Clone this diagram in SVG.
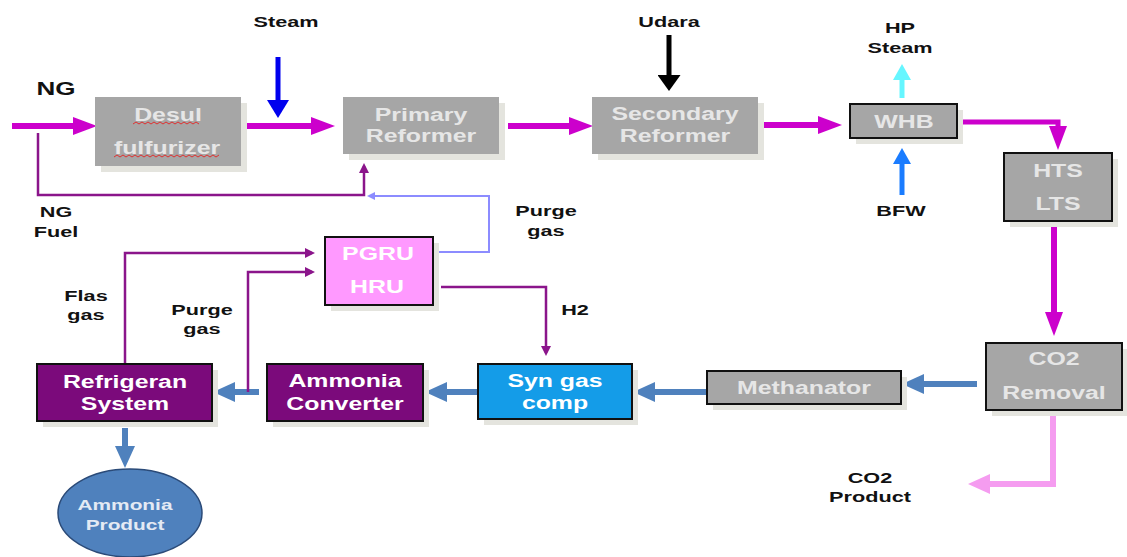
<svg xmlns="http://www.w3.org/2000/svg" width="1127" height="557" viewBox="0 0 1127 557">
<style>
.lbl{font-family:"Liberation Sans",Arial,sans-serif;font-weight:bold;font-size:15.5px;fill:#111;text-anchor:middle}
.bt{font-family:"Liberation Sans",Arial,sans-serif;font-weight:bold;font-size:18px;text-anchor:middle}
.g{fill:#e6e6e6}
.w{fill:#ffffff}
.shadow{fill:#e4e4de}
.grey{fill:#a6a6a6}
.bord{stroke:#111;stroke-width:2}
.ln{fill:none;stroke-linejoin:miter}
</style>
<defs>
<marker id="mMag" markerUnits="userSpaceOnUse" markerWidth="24" markerHeight="18" viewBox="0 0 24 18" refX="16" refY="9" orient="auto"><path d="M0,0 L24,9 L0,18 z" fill="#cc00cc"/></marker>
<marker id="mBlue" markerUnits="userSpaceOnUse" markerWidth="22" markerHeight="20" viewBox="0 0 22 20" refX="14" refY="10" orient="auto"><path d="M0,0 L22,10 L0,20 z" fill="#4f81bd"/></marker>
<marker id="mPink" markerUnits="userSpaceOnUse" markerWidth="22" markerHeight="20" viewBox="0 0 22 20" refX="14" refY="10" orient="auto"><path d="M0,0 L22,10 L0,20 z" fill="#f59cf0"/></marker>
<marker id="mSteam" markerUnits="userSpaceOnUse" markerWidth="18" markerHeight="22" viewBox="0 0 18 22" refX="10" refY="11" orient="auto"><path d="M0,0 L18,11 L0,22 z" fill="#0000ee"/></marker>
<marker id="mBlack" markerUnits="userSpaceOnUse" markerWidth="16" markerHeight="23" viewBox="0 0 16 23" refX="8" refY="11.5" orient="auto"><path d="M0,0 L16,11.5 L0,23 z" fill="#000"/></marker>
<marker id="mCyan" markerUnits="userSpaceOnUse" markerWidth="16" markerHeight="18" viewBox="0 0 16 18" refX="8" refY="9" orient="auto"><path d="M0,0 L16,9 L0,18 z" fill="#66f6ff"/></marker>
<marker id="mBFW" markerUnits="userSpaceOnUse" markerWidth="16" markerHeight="18" viewBox="0 0 16 18" refX="8" refY="9" orient="auto"><path d="M0,0 L16,9 L0,18 z" fill="#1a7cff"/></marker>
<marker id="mPur" markerUnits="userSpaceOnUse" markerWidth="10" markerHeight="10" viewBox="0 0 10 10" refX="7" refY="5" orient="auto"><path d="M0,0 L10,5 L0,10 z" fill="#8b158b"/></marker>
<marker id="mVio" markerUnits="userSpaceOnUse" markerWidth="8" markerHeight="8" viewBox="0 0 8 8" refX="6" refY="4" orient="auto"><path d="M0,0 L8,4 L0,8 z" fill="#8c8cff"/></marker>
</defs>
<rect width="1127" height="557" fill="#fff"/>

<g id="connectors" class="ln">
<path d="M12,126 H89" stroke="#cc00cc" stroke-width="6" marker-end="url(#mMag)"/>
<path d="M241,126 H327" stroke="#cc00cc" stroke-width="6" marker-end="url(#mMag)"/>
<path d="M508,126 H585" stroke="#cc00cc" stroke-width="6" marker-end="url(#mMag)"/>
<path d="M763,125 H834" stroke="#cc00cc" stroke-width="6" marker-end="url(#mMag)"/>
<path d="M957,122 H1058 V142" stroke="#cc00cc" stroke-width="5" marker-end="url(#mMag)"/>
<path d="M1054,224 V328" stroke="#cc00cc" stroke-width="6" marker-end="url(#mMag)"/>
<path d="M977,384 H910" stroke="#4f81bd" stroke-width="6" marker-end="url(#mBlue)"/>
<path d="M707,392 H641" stroke="#4f81bd" stroke-width="6" marker-end="url(#mBlue)"/>
<path d="M478,392 H433" stroke="#4f81bd" stroke-width="6" marker-end="url(#mBlue)"/>
<path d="M259,392 H221" stroke="#4f81bd" stroke-width="6" marker-end="url(#mBlue)"/>
<path d="M125,428 V460" stroke="#4f81bd" stroke-width="6" marker-end="url(#mBlue)"/>
<path d="M1053,415 V484 H976" stroke="#f59cf0" stroke-width="6" marker-end="url(#mPink)"/>
<path d="M278,57 V110" stroke="#0000ee" stroke-width="5" marker-end="url(#mSteam)"/>
<path d="M669,35 V83" stroke="#000" stroke-width="5" marker-end="url(#mBlack)"/>
<path d="M902,98 V72" stroke="#66f6ff" stroke-width="5" marker-end="url(#mCyan)"/>
<path d="M902,195 V156" stroke="#1a7cff" stroke-width="5" marker-end="url(#mBFW)"/>
<path d="M38,133 V195 H364 V166" stroke="#8b158b" stroke-width="2.5" marker-end="url(#mPur)"/>
<path d="M125,364 V253 H312" stroke="#8b158b" stroke-width="2.5" marker-end="url(#mPur)"/>
<path d="M248,392 V272 H312" stroke="#8b158b" stroke-width="2.5" marker-end="url(#mPur)"/>
<path d="M441,287 H546 V353" stroke="#8b158b" stroke-width="2.5" marker-end="url(#mPur)"/>
<path d="M433,252 H489 V196 H369" stroke="#8c8cff" stroke-width="2" marker-end="url(#mVio)"/>
</g>

<g id="desul">
<rect x="101" y="103" width="146" height="69" class="shadow"/>
<rect x="95" y="97" width="146" height="69" class="grey"/>
<text class="bt g" transform="translate(168 121) scale(1.38 1)">Desul</text>
<text class="bt g" transform="translate(167 154) scale(1.38 1)">fulfurizer</text>
<path d="M133,124 l3,-2 l3,2 l3,-2 l3,2 l3,-2 l3,2 l3,-2 l3,2 l3,-2 l3,2 l3,-2 l3,2 l3,-2 l3,2 l3,-2 l3,2 l3,-2 l3,2 l3,-2 l3,2 l3,-2 l3,2 M114,157 l3,-2 l3,2 l3,-2 l3,2 l3,-2 l3,2 l3,-2 l3,2 l3,-2 l3,2 l3,-2 l3,2 l3,-2 l3,2 l3,-2 l3,2 l3,-2 l3,2 l3,-2 l3,2 l3,-2 l3,2 l3,-2 l3,2 l3,-2 l3,2 l3,-2 l3,2 l3,-2 l3,2 l3,-2 l3,2 l3,-2 l3,2 l3,-2" fill="none" stroke="#e03030" stroke-width="1"/>
</g>

<g id="primary">
<rect x="349" y="103" width="156" height="57" class="shadow"/>
<rect x="343" y="97" width="156" height="57" class="grey"/>
<text class="bt g" transform="translate(421 121) scale(1.38 1)">Primary</text>
<text class="bt g" transform="translate(421 142) scale(1.38 1)">Reformer</text>
</g>

<g id="secondary">
<rect x="598" y="103" width="166" height="57" class="shadow"/>
<rect x="592" y="97" width="166" height="57" class="grey"/>
<text class="bt g" transform="translate(675 120) scale(1.38 1)">Secondary</text>
<text class="bt g" transform="translate(675 142) scale(1.38 1)">Reformer</text>
</g>

<g id="whb">
<rect x="856" y="110" width="107" height="34" class="shadow"/>
<rect x="850" y="104" width="107" height="34" class="grey bord"/>
<text class="bt g" transform="translate(904 128) scale(1.38 1)">WHB</text>
</g>

<g id="hts">
<rect x="1010" y="159" width="108" height="68" class="shadow"/>
<rect x="1004" y="153" width="108" height="68" class="grey bord"/>
<text class="bt g" transform="translate(1058 177) scale(1.38 1)">HTS</text>
<text class="bt g" transform="translate(1058 210) scale(1.38 1)">LTS</text>
</g>

<g id="co2">
<rect x="992" y="349" width="136" height="67" class="shadow"/>
<rect x="986" y="343" width="136" height="67" class="grey bord"/>
<text class="bt g" transform="translate(1054 365) scale(1.38 1)">CO2</text>
<text class="bt g" transform="translate(1054 399) scale(1.38 1)">Removal</text>
</g>

<g id="methanator">
<rect x="713" y="377" width="194" height="33" class="shadow"/>
<rect x="707" y="371" width="194" height="33" class="grey bord"/>
<text class="bt g" transform="translate(804 394) scale(1.38 1)">Methanator</text>
</g>

<g id="syngas">
<rect x="484" y="370" width="154" height="55" class="shadow"/>
<rect x="478" y="364" width="154" height="55" fill="#149ce8" class="bord"/>
<text class="bt w" transform="translate(555 387) scale(1.38 1)">Syn gas</text>
<text class="bt w" transform="translate(555 409) scale(1.38 1)">comp</text>
</g>

<g id="converter">
<rect x="273" y="370" width="156" height="57" class="shadow"/>
<rect x="267" y="364" width="156" height="57" fill="#7b0a7b" class="bord"/>
<text class="bt w" transform="translate(345 387) scale(1.38 1)">Ammonia</text>
<text class="bt w" transform="translate(345 410) scale(1.38 1)">Converter</text>
</g>

<g id="refrigeran">
<rect x="43" y="370" width="175" height="57" class="shadow"/>
<rect x="37" y="364" width="175" height="57" fill="#7b0a7b" class="bord"/>
<text class="bt w" transform="translate(125 388) scale(1.38 1)">Refrigeran</text>
<text class="bt w" transform="translate(125 410) scale(1.38 1)">System</text>
</g>

<g id="pgru">
<rect x="331" y="243" width="108" height="68" class="shadow"/>
<rect x="325" y="237" width="108" height="68" fill="#ff99ff" class="bord"/>
<text class="bt w" transform="translate(378 260) scale(1.38 1)">PGRU</text>
<text class="bt w" transform="translate(377 293) scale(1.38 1)">HRU</text>
</g>

<g id="ammonia-product">
<ellipse cx="130" cy="513" rx="72" ry="44" fill="#4f81bd" stroke="#2a4a78" stroke-width="1.5"/>
<text class="bt" style="font-size:15px;fill:#e4eaf4" transform="translate(125 510) scale(1.39 1)">Ammonia</text>
<text class="bt" style="font-size:15px;fill:#e4eaf4" transform="translate(125 530) scale(1.39 1)">Product</text>
</g>

<g id="labels">
<text class="lbl" style="font-size:19px" transform="translate(56 95) scale(1.37 1)">NG</text>
<text class="lbl" transform="translate(286 27) scale(1.4 1)">Steam</text>
<text class="lbl" transform="translate(669 27) scale(1.4 1)">Udara</text>
<text class="lbl" transform="translate(900 33) scale(1.4 1)">HP</text>
<text class="lbl" transform="translate(900 53) scale(1.4 1)">Steam</text>
<text class="lbl" transform="translate(901 216) scale(1.4 1)">BFW</text>
<text class="lbl" transform="translate(56 217) scale(1.4 1)">NG</text>
<text class="lbl" transform="translate(56 237) scale(1.4 1)">Fuel</text>
<text class="lbl" transform="translate(546 216) scale(1.4 1)">Purge</text>
<text class="lbl" transform="translate(546 236) scale(1.4 1)">gas</text>
<text class="lbl" transform="translate(86 301) scale(1.4 1)">Flas</text>
<text class="lbl" transform="translate(86 320) scale(1.4 1)">gas</text>
<text class="lbl" transform="translate(202 315) scale(1.4 1)">Purge</text>
<text class="lbl" transform="translate(202 334) scale(1.4 1)">gas</text>
<text class="lbl" transform="translate(575 315) scale(1.4 1)">H2</text>
<text class="lbl" transform="translate(870 483) scale(1.4 1)">CO2</text>
<text class="lbl" transform="translate(870 502) scale(1.4 1)">Product</text>
</g>
</svg>
